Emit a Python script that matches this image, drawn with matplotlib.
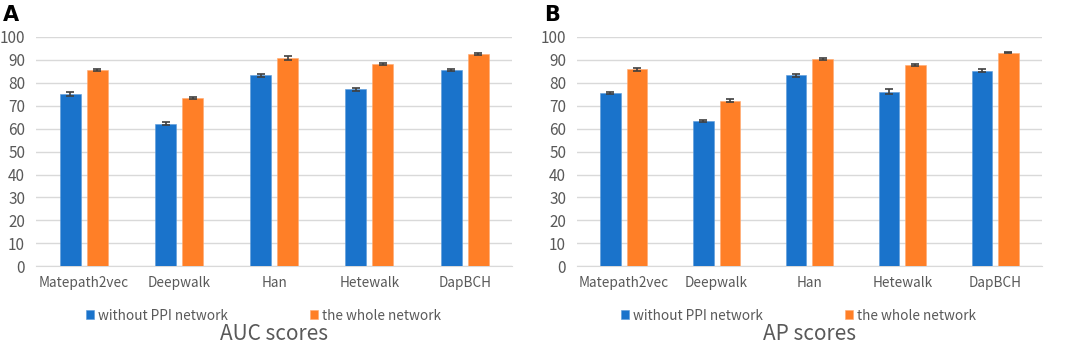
import numpy as np
import matplotlib.pyplot as plt

methods = ["Matepath2vec", "Deepwalk", "Han", "Hetewalk", "DapBCH"]
series_names = ["without PPI network", "the whole network"]

auc_without = [75.3, 62.2, 83.3, 77.2, 85.7]
auc_whole = [85.7, 73.2, 90.8, 88.2, 92.7]
auc_err_without = [0.9, 0.7, 0.7, 0.7, 0.4]
auc_err_whole = [0.5, 0.4, 0.8, 0.6, 0.4]

ap_without = [75.6, 63.2, 83.3, 76.2, 85.3]
ap_whole = [85.8, 72.2, 90.5, 87.8, 93.2]
ap_err_without = [0.6, 0.4, 0.6, 0.9, 0.6]
ap_err_whole = [0.6, 0.6, 0.5, 0.5, 0.4]

BLUE = "#1A73CB"
ORANGE = "#FF7F27"
GREY = "#595959"
plt.rcParams["font.family"] = ["Noto Sans CJK SC", "DejaVu Sans"]

fig = plt.figure(figsize=(10.65, 3.55), dpi=100)


def draw_panel(rect, without, whole, err_without, err_whole, letter, title):
    ax = fig.add_axes(rect)
    x = np.arange(len(methods))
    w = 0.22
    ax.bar(x - 0.142, without, w, color=BLUE, label=series_names[0], zorder=3,
           edgecolor="#5A9BDB", linewidth=0.4)
    ax.bar(x + 0.142, whole, w, color=ORANGE, label=series_names[1], zorder=3,
           edgecolor="#FFAA70", linewidth=0.4)
    ax.errorbar(x - 0.142, without, yerr=err_without, fmt="none", ecolor="#404040",
                elinewidth=1.2, capsize=3, capthick=1.2, zorder=4)
    ax.errorbar(x + 0.142, whole, yerr=err_whole, fmt="none", ecolor="#404040",
                elinewidth=1.2, capsize=3, capthick=1.2, zorder=4)
    ax.set_xlim(-0.5, len(methods) - 0.5)
    ax.set_ylim(0, 100)
    ax.set_yticks(range(0, 101, 10))
    ax.set_xticks(x)
    ax.set_xticklabels(methods, fontsize=9.8)
    ax.grid(axis="y", color="#D9D9D9", linewidth=1, zorder=0)
    for s in ["top", "right", "left"]:
        ax.spines[s].set_visible(False)
    ax.spines["bottom"].set_color("#D9D9D9")
    ax.tick_params(axis="both", length=0, colors=GREY)
    ax.tick_params(axis="y", labelsize=11, pad=8)
    ax.tick_params(axis="x", pad=7)
    leg = ax.legend(loc="center", bbox_to_anchor=(0.477, -0.215), ncol=2,
                    frameon=False, fontsize=9.8, handlelength=0.6, handleheight=0.6,
                    handletextpad=0.3, columnspacing=6.0)
    for t in leg.get_texts():
        t.set_color(GREY)
    cx = rect[0] + rect[2] / 2
    fig.text(cx, 0.028, title, ha="center", va="bottom", fontsize=15, color=GREY)
    fig.text(rect[0] - 0.031, 0.958, letter, ha="left", va="center",
             fontsize=15, fontweight="bold", family="DejaVu Sans")
    return ax


draw_panel([0.034, 0.25, 0.447, 0.646], auc_without, auc_whole,
           auc_err_without, auc_err_whole, "A", "AUC scores")
draw_panel([0.542, 0.25, 0.436, 0.646], ap_without, ap_whole,
           ap_err_without, ap_err_whole, "B", "AP scores")

fig.savefig("out.png", dpi=100)
